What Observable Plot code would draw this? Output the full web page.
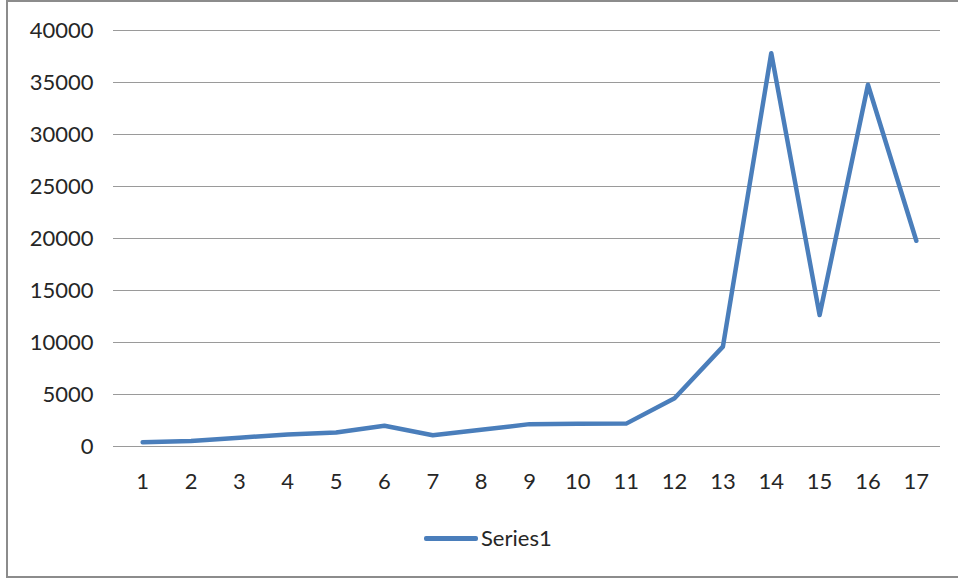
<!DOCTYPE html>
<html>
<head>
<meta charset="utf-8">
<script src="https://cdn.jsdelivr.net/npm/d3@7"></script>
<script src="https://cdn.jsdelivr.net/npm/@observablehq/plot@0.6"></script>
<style>
  html, body { margin: 0; padding: 0; background: #fff; }
  #wrap { position: relative; width: 958px; height: 578px; overflow: hidden; font-family: Lato, "Open Sans", sans-serif; }
  #frame { position: absolute; left: 6px; top: 0px; width: 980px; height: 574px; border-left: 2px solid #8c8c8c; border-top: 2px solid #8c8c8c; border-bottom: 2px solid #8c8c8c; box-sizing: content-box; pointer-events: none; }
  #chart { position: absolute; left: 0; top: 0; }
  #legend { position: absolute; left: 0; top: 500px; width: 958px; height: 78px; }
  #legend .key { position: absolute; left: 424px; top: 36px; width: 54px; height: 4.5px; background: #4a7ebb; border-radius: 2px; }
  #legend .lab { position: absolute; left: 481px; top: 24px; font-size: 22px; color: #262626; line-height: 28px; }
</style>
</head>
<body>
<div id="wrap">
  <div id="chart"></div>
  <div id="legend"><div class="key"></div><div class="lab">Series1</div></div>
  <div id="frame"></div>
</div>
<script>
const categories = [1, 2, 3, 4, 5, 6, 7, 8, 9, 10, 11, 12, 13, 14, 15, 16, 17];
const series1 = [420, 520, 850, 1150, 1350, 2000, 1080, 1600, 2150, 2190, 2200, 4640, 9600, 37820, 12640, 34780, 19780];
const yTicks = [0, 5000, 10000, 15000, 20000, 25000, 30000, 35000, 40000];
const seriesName = "Series1";

const data = categories.map((c, i) => ({cat: c, value: series1[i], series: seriesName}));

const chart = Plot.plot({
  width: 958,
  height: 500,
  marginLeft: 118,
  marginRight: 18,
  marginTop: 30,
  marginBottom: 54,
  style: {fontFamily: "Lato, 'Open Sans', sans-serif", fontSize: "22px", color: "#262626", background: "transparent"},
  x: {type: "point", domain: categories, padding: 0.5, round: false, label: null},
  y: {domain: [0, 40000], label: null},
  marks: [
    Plot.ruleY(yTicks, {stroke: "#9a9a9a", strokeWidth: 1.2}),
    Plot.axisY({ticks: yTicks, tickSize: 5, tickPadding: 20, stroke: "#9a9a9a", label: null, tickFormat: d => String(d), fill: "#262626", fontSize: 22}),
    Plot.axisX({tickSize: 0, tickPadding: 27, label: null, fill: "#262626", fontSize: 22}),
    Plot.line(data, {x: "cat", y: "value", stroke: "#4a7ebb", strokeWidth: 4.5, strokeLinejoin: "round", strokeLinecap: "round"})
  ]
});
document.getElementById("chart").appendChild(chart);
</script>
</body>
</html>
